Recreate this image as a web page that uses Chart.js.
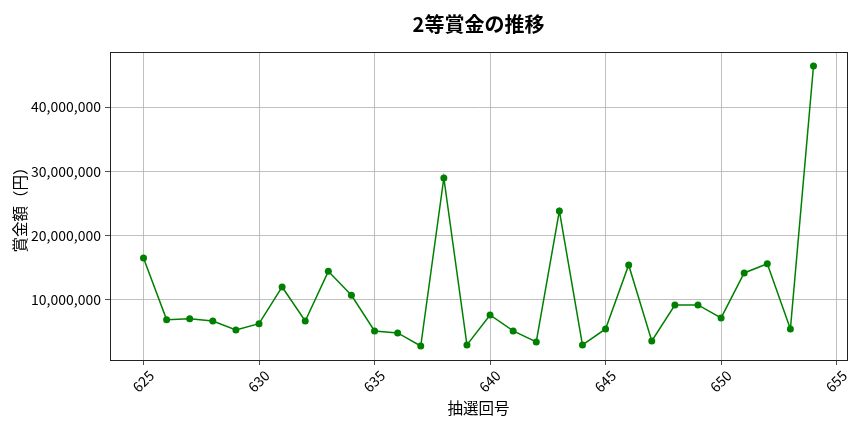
<!DOCTYPE html>
<html>
<head>
<meta charset="utf-8">
<script src="https://cdn.jsdelivr.net/npm/chart.js@4/dist/chart.umd.min.js"></script>
<style>
  html, body { margin: 0; padding: 0; background: #fff; }
  #wrap { width: 864px; height: 432px; }
</style>
</head>
<body>
<div id="wrap"><canvas id="c" width="864" height="432"></canvas></div>
<script>
const drawNumbers = [625,626,627,628,629,630,631,632,633,634,635,636,637,638,639,640,641,642,643,644,645,646,647,648,649,650,651,652,653,654];
const prizeValues = [16530000,6940000,7090000,6730000,5330000,6310000,12020000,6730000,14450000,10720000,5180000,4870000,2840000,28970000,3000000,7670000,5180000,3470000,23840000,3000000,5490000,15440000,3620000,9220000,9220000,7200000,14200000,15640000,5490000,46390000];
const xTicks = [625,630,635,640,645,650,655];
const yTicks = [10000000,20000000,30000000,40000000];
const titleText = '2等賞金の推移';
const xLabel = '抽選回号';
const yLabel = '賞金額（円）';

const FONT = "'Noto Sans CJK JP', 'Noto Sans', sans-serif";

const frame = {
  id: 'frame',
  afterDraw(chart) {
    const {ctx, chartArea: a} = chart;
    ctx.save();
    ctx.strokeStyle = '#222';
    ctx.lineWidth = 1;
    ctx.strokeRect(Math.round(a.left) + 0.5, Math.round(a.top) + 0.5, Math.round(a.right - a.left), Math.round(a.bottom - a.top));
    ctx.restore();
  }
};

new Chart(document.getElementById('c'), {
  type: 'line',
  data: {
    datasets: [{
      data: drawNumbers.map((x, i) => ({x, y: prizeValues[i]})),
      borderColor: '#008000',
      backgroundColor: '#008000',
      borderWidth: 1.5,
      pointRadius: 3.5,
      pointHoverRadius: 3.5,
      pointBorderWidth: 0,
      tension: 0
    }]
  },
  options: {
    responsive: false,
    animation: false,
    devicePixelRatio: 1,
    layout: { padding: { left: 0, right: 17, top: 0, bottom: 0 } },
    plugins: {
      legend: { display: false },
      tooltip: { enabled: false },
      title: {
        display: true,
        text: titleText,
        fullSize: false,
        color: '#000',
        font: { family: FONT, size: 20, weight: 'bold', lineHeight: 1.2 },
        padding: { top: 12, bottom: 16 }
      }
    },
    scales: {
      x: {
        type: 'linear',
        min: 623.55,
        max: 655.45,
        afterBuildTicks(s) { s.ticks = xTicks.map(v => ({value: v})); },
        afterFit(s) { s.height = 72; },
        grid: { color: '#b0b0b0', lineWidth: 0.8, tickLength: 5, tickColor: '#222', drawOnChartArea: true },
        border: { display: false },
        ticks: {
          color: '#000',
          font: { family: FONT, size: 14 },
          minRotation: 45, maxRotation: 45,
          labelOffset: 8,
          padding: 2,
          autoSkip: false,
          callback: v => String(v)
        },
        title: {
          display: true, text: xLabel, color: '#000',
          font: { family: FONT, size: 15.5, lineHeight: 1.2 },
          padding: { top: 0, bottom: 15 }
        }
      },
      y: {
        type: 'linear',
        min: 660000,
        max: 48570000,
        afterBuildTicks(s) { s.ticks = yTicks.map(v => ({value: v})); },
        afterFit(s) { s.width = 110; },
        grid: { color: '#b0b0b0', lineWidth: 0.8, tickLength: 5, tickColor: '#222' },
        border: { display: false },
        ticks: {
          color: '#000',
          font: { family: FONT, size: 14 },
          padding: 4,
          callback: v => v.toLocaleString('en-US')
        },
        title: {
          display: true, text: yLabel, color: '#000',
          font: { family: FONT, size: 15.5, lineHeight: 1.2 },
          padding: { top: 11, bottom: 0 }
        }
      }
    }
  },
  plugins: [frame]
});
</script>
</body>
</html>
